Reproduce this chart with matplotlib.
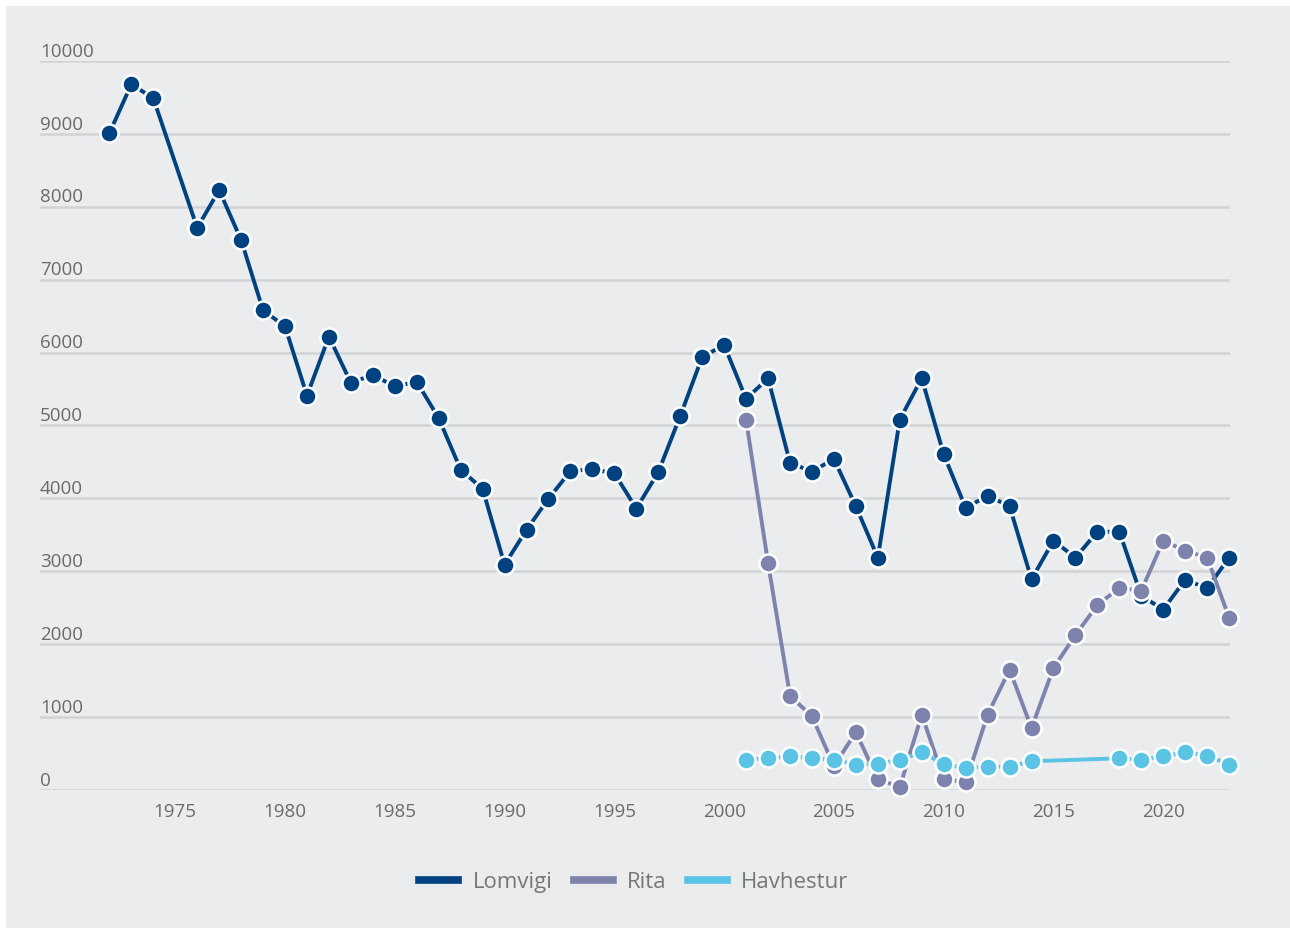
import matplotlib
matplotlib.use('Agg')

import numpy as np
import matplotlib.pyplot as plt
from matplotlib.patches import Rectangle
from matplotlib.lines import Line2D

# data
lom_years = [1972, 1973, 1974] + list(range(1976, 2024))
lom_vals = [9010, 9680, 9490,
            7710, 8230, 7545, 6580, 6360, 5410, 6220, 5585, 5695, 5535, 5600,
            5100, 4395, 4130, 3090, 3570, 3995, 4375, 4400, 4345, 3860, 4360,
            5130, 5940, 6104, 5365, 5648, 4488, 4368, 4541, 3892, 3187, 5080,
            5648, 4605, 3870, 4037, 3892, 2890, 3420, 3187, 3543, 3543, 2665,
            2475, 2885, 2767, 3187]

rita_years = list(range(2001, 2024))
rita_vals = [5075, 3114, 1294, 1010, 330, 791, 151, 37, 1033, 151, 105, 1033,
             1650, 850, 1673, 2126, 2538, 2771, 2734, 3420, 3283, 3187, 2364]

hav_years = list(range(2001, 2015)) + list(range(2018, 2024))
hav_vals = [416, 435, 462, 435, 416, 347, 357, 416, 517, 357, 298, 320, 320, 394,
            435, 416, 462, 517, 471, 347]

series_names = ["Lomvigi", "Rita", "Havhestur"]
colors = ["#00427f", "#7d83ad", "#5bc4e4"]

yticks = [0, 1000, 2000, 3000, 4000, 5000, 6000, 7000, 8000, 9000, 10000]
xticks = [1975, 1980, 1985, 1990, 1995, 2000, 2005, 2010, 2015, 2020]

bg = "#ebecee"
txt = "#6a6a6a"

plt.rcParams['font.family'] = ['Open Sans', 'DejaVu Sans']

fig = plt.figure(figsize=(12.9, 9.29), dpi=100)
fig.patch.set_facecolor("white")
fig.patches.append(Rectangle((6 / 1290, 0), 1, 1 - 7 / 929, transform=fig.transFigure,
                             facecolor=bg, edgecolor="none", zorder=-10))

ax = fig.add_axes([40 / 1290, 1 - 791 / 929, 1190 / 1290, 729 / 929])
ax.set_facecolor("none")
ax.set_xlim(1968.84, 2023.04)
ax.set_ylim(0, 10000)

for s in ax.spines.values():
    s.set_visible(False)

for v in yticks:
    ax.axhline(v, color="#d2d3d6", lw=1.8, zorder=1)
    ax.annotate(str(v), xy=(0, v), xycoords=("axes fraction", "data"),
                xytext=(0, 1), textcoords="offset points",
                ha="left", va="bottom", fontsize=13.5, color=txt)

ax.set_yticks([])
ax.set_xticks(xticks)
ax.set_xticklabels([str(x) for x in xticks], fontsize=13.5, color=txt)
ax.tick_params(axis="x", length=0, pad=9)

all_series = [(lom_years, lom_vals), (rita_years, rita_vals), (hav_years, hav_vals)]
for i, (xs, ys) in enumerate(all_series):
    ax.plot(xs, ys, color=colors[i], lw=2.8, marker="o", markersize=13,
            markerfacecolor=colors[i], markeredgecolor="white", markeredgewidth=1.8,
            clip_on=False, zorder=3 + i)

handles = [Line2D([], [], color=c, lw=5.5) for c in colors]
leg = fig.legend(handles, series_names, loc="center", bbox_to_anchor=(634 / 1290, 1 - 883 / 929),
                 ncol=3, frameon=False, fontsize=16, handlelength=1.75,
                 handletextpad=0.65, columnspacing=0.95)
for t in leg.get_texts():
    t.set_color("#777777")

plt.savefig("out.png", dpi=100, facecolor=fig.get_facecolor())
